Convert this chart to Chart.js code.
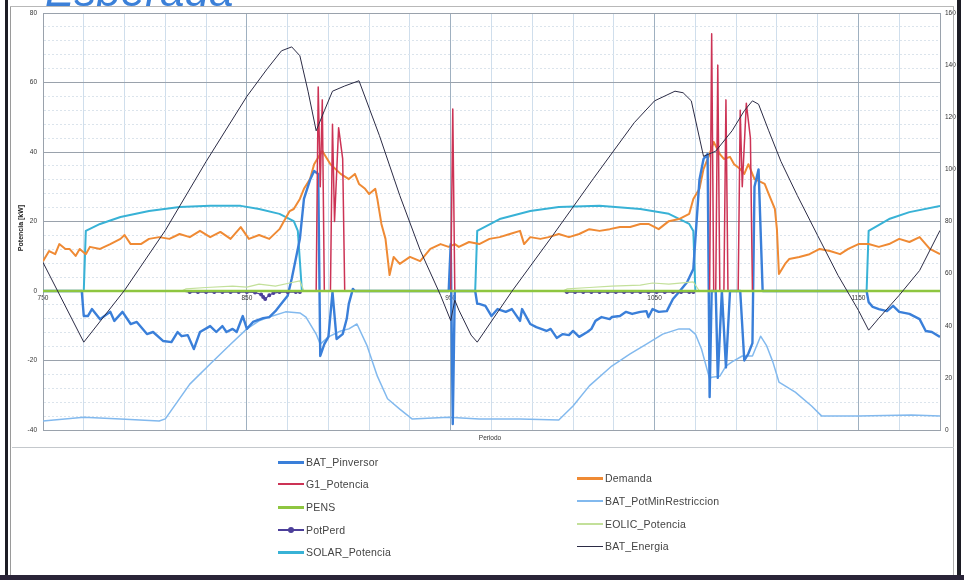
<!DOCTYPE html>
<html>
<head>
<meta charset="utf-8">
<script src="https://cdn.jsdelivr.net/npm/chart.js@4.4.1/dist/chart.umd.min.js"></script>
<style>
  html, body { margin: 0; padding: 0; background: #fff; }
  #wrap { position: relative; width: 964px; height: 580px; overflow: hidden; font-family: "Liberation Sans", Arial, sans-serif; background: #fff; }
  #chart { position: absolute; left: 0; top: 0; }
  .abs { position: absolute; }
  #titlebox { left: 0; top: 0; width: 400px; height: 6px; overflow: hidden; }
  #title { position: absolute; left: 45px; top: -31px; font-size: 44px; font-style: italic; color: #3c80d8; line-height: 44px; white-space: nowrap; }
  #ytitle { left: 20px; top: 228px; font-size: 7px; font-weight: bold; color: #222; transform: translate(-50%, -50%) rotate(-90deg); white-space: nowrap; }
  #xtitle { left: 490px; top: 437px; font-size: 6.5px; color: #333; transform: translate(-50%, -50%); white-space: nowrap; }
  .leg { position: absolute; height: 12px; font-size: 10.5px; color: #444; white-space: nowrap; line-height: 12px; letter-spacing: 0.2px; }
  .leg .sw { position: absolute; left: 0; top: 6px; width: 26px; }
  .leg .dot { position: absolute; left: 10px; width: 6px; height: 6px; border-radius: 50%; }
  .leg .tx { position: absolute; left: 28px; top: 0; }
</style>
</head>
<body>
<div id="wrap">
  <canvas id="chart" width="964" height="580"></canvas>
  <div class="abs" style="left:5px;top:0;width:3px;height:580px;background:#1c1c24"></div>
  <div class="abs" style="left:10px;top:6px;width:1px;height:570px;background:#9a9a9a"></div>
  <div class="abs" style="left:957px;top:0;width:4px;height:580px;background:#1c1c24"></div>
  <div class="abs" style="left:953px;top:6px;width:1px;height:570px;background:#b0b0b0"></div>
  <div class="abs" style="left:10px;top:6px;width:944px;height:1px;background:#b8b8b8"></div>
  <div class="abs" style="left:12px;top:447px;width:942px;height:1px;background:#c4c8cc"></div>
  <div class="abs" style="left:0;top:575px;width:964px;height:5px;background:#2a2438"></div>
  <div id="titlebox" class="abs"><div id="title">Esperada</div></div>
  <div id="ytitle" class="abs">Potencia [kW]</div>
  <div id="xtitle" class="abs">Periodo</div>
  <div id="legend"></div>
</div>
<script>
// Axis tick labels
const xTickLabels = [750, 850, 950, 1050, 1150];
const yLeftLabels = [-40, -20, 0, 20, 40, 60, 80];
const yRightLabels = [0, 20, 40, 60, 80, 100, 120, 140, 160];

// BAT_Pinversor [kW]
const pinvX = [750, 769, 770, 772, 774, 778, 783, 785, 789, 793, 796, 801, 804, 809, 813, 816, 818, 821, 824, 827, 832, 835, 838, 840, 843, 845, 848, 850, 853, 858, 861, 864, 866, 870, 872, 876, 878, 881, 883, 885, 886, 888, 890, 892, 894, 897, 899, 900, 902, 903,
  949, 950, 951, 952, 953, 962, 963, 964, 967, 970, 973, 977, 980, 984, 985, 989, 992, 997, 999, 1002, 1005, 1008, 1010, 1013, 1017, 1019, 1021, 1024, 1028, 1029, 1033, 1036, 1039, 1043, 1046, 1047, 1049, 1052, 1056, 1059, 1062, 1066, 1069, 1072, 1074, 1076,
  1077, 1078, 1080, 1081, 1083, 1085, 1087, 1092, 1094, 1096, 1098, 1099, 1101, 1103, 1154, 1155, 1157, 1160, 1164, 1167, 1170, 1175, 1180, 1183, 1186, 1190];
const pinvY = [0, 0, -7.2, -7.2, -5.2, -8.1, -6.0, -8.6, -6.0, -9.5, -8.9, -12.4, -11.8, -14.4, -14.7, -11.8, -13.0, -12.7, -16.7, -11.8, -10.1, -11.8, -10.1, -11.8, -10.9, -11.8, -7.2, -10.9, -8.9, -7.8, -7.5, -5.8, -4.3, -1.4, 3.5, 15, 26.5, 32, 34.5, 33.7, -18.7, -15.3, -13.2, -0.3, -13.8, -12.4, -8, -3.7, 0.6, 0,
  0, 13.5, -38.3, 0, 0, 0, -3.7, -3.7, -4.3, -7.2, -5.2, -6.0, -5.2, -8.6, -5.2, -9.5, -10.4, -11.5, -10.9, -13.5, -12.4, -12.7, -11.5, -13.2, -11.8, -10.9, -8.6, -7.5, -8.1, -7.5, -7.2, -6.0, -6.6, -6.0, -5.8, -7.5, -5.2, -6.0, -5.8, -2.3, -0.3, 2.6, 6.3, 32, 38, 39.4,
  -30.5, 0, 0, -25, 0, -22, 0, 0, -20, -18, -15, 30, 35, 0, 0, -3.2, -4.6, -5.2, -5.8, -4.3, -6.0, -6.6, -8.1, -11.5, -11.8, -13.2];

// G1_Potencia [kW]
const g1X = [750, 884, 885, 886, 887, 888, 891, 892, 893, 895, 897, 898, 950, 951, 952, 1077, 1078, 1079, 1080, 1081, 1082, 1084, 1085, 1086, 1091, 1092, 1093, 1095, 1097, 1098, 1190];
const g1Y = [0, 0, 58.7, 30, 55, 0, 0, 48, 20, 47, 38, 0, 0, 52.4, 0, 0, 74, 0, 0, 65, 0, 0, 55, 0, 0, 52, 30, 54, 44, 0, 0];

// PENS [kW]
const pensX = [750, 1190];
const pensY = [0, 0];

// PotPerd [kW]
const perdX = [750, 818, 822, 826, 830, 834, 838, 842, 846, 850, 854, 857, 858, 859, 861, 863, 866, 870, 874, 876, 877, 1004, 1007, 1011, 1015, 1019, 1023, 1027, 1031, 1035, 1039, 1043, 1047, 1051, 1055, 1059, 1063, 1067, 1069, 1070, 1190];
const perdY = [0, 0, -0.3, -0.3, -0.3, -0.3, -0.3, -0.3, -0.3, -0.3, -0.4, -1.0, -1.7, -2.3, -1.2, -0.6, -0.3, -0.3, -0.3, -0.3, 0, 0, -0.3, -0.3, -0.3, -0.3, -0.3, -0.3, -0.3, -0.3, -0.3, -0.3, -0.3, -0.3, -0.3, -0.3, -0.3, -0.3, -0.3, 0, 0];

// SOLAR_Potencia [kW]
const solarX = [750, 770, 771, 778, 788, 802, 817, 832, 847, 856, 866, 873, 875, 877, 962, 963, 974, 989, 1003, 1023, 1043, 1057, 1067, 1069, 1070, 1154, 1155, 1165, 1175, 1190];
const solarY = [0, 0, 17.3, 19.3, 21.3, 23, 24.2, 24.5, 24.5, 23.6, 22.2, 20.1, 17.3, 0, 0, 17.3, 20.7, 23, 24.2, 24.5, 23.6, 22.2, 19.3, 17.3, 0, 0, 17.3, 20.7, 22.7, 24.5];

// Demanda [kW]
const demX = [750, 753, 756, 758, 761, 763, 766, 768, 771, 773, 778, 783, 788, 790, 793, 798, 802, 807, 812, 817, 822, 827, 832, 837, 842, 847, 851, 856, 861, 866, 871, 873, 876, 878, 881, 883, 886, 887, 891, 896, 900, 903, 905, 908, 910, 913, 914, 916, 918, 920, 922, 925, 930, 935, 940, 945, 949, 952, 954, 959, 964, 969, 974, 979, 984, 986, 989, 994, 998, 1003, 1008, 1013, 1018, 1023, 1028, 1033, 1038, 1043, 1047, 1052, 1057, 1062, 1067, 1069, 1072, 1074, 1077, 1079, 1082, 1084, 1087, 1089, 1092, 1094, 1096, 1099, 1101, 1104, 1106, 1109, 1110, 1111, 1114, 1116, 1121, 1126, 1131, 1136, 1141, 1145, 1150, 1155, 1160, 1165, 1170, 1175, 1180, 1185, 1190];
const demY = [8.6, 11.5, 10.6, 13.5, 12.1, 12.1, 10.1, 12.1, 10.6, 12.7, 12.1, 13.5, 15, 16.1, 13.5, 13.5, 15, 15.5, 15, 16.4, 15.5, 17.3, 15.5, 17, 15, 18.4, 15, 16.1, 15, 17.8, 23, 23.6, 26.5, 29.4, 32.2, 36.5, 39.4, 40.3, 36.5, 33.7, 32.2, 33.7, 30.8, 29.4, 27.9, 29.4, 26.5, 19.3, 15, 4.6, 9.8, 7.8, 9.8, 8.6, 12.1, 13.5, 12.7, 13.5, 12.7, 14.1, 13.5, 15, 15.5, 16.4, 17.3, 13.5, 15.5, 15, 15.5, 16.4, 15.5, 16.4, 17.8, 17.3, 17.8, 18.4, 18.4, 19.3, 19.3, 17.8, 20.1, 20.7, 22.2, 26.5, 29.4, 35.1, 39.4, 42.9, 39.4, 38, 38.6, 36.5, 35.1, 33.7, 36.5, 32.2, 31.7, 30.8, 27.9, 23.6, 17.8, 4.9, 7.8, 9.2, 9.8, 10.6, 12.1, 11.5, 10.6, 12.1, 13.5, 13.5, 12.7, 13.5, 15, 14.1, 15.5, 12.1, 10.6];

// BAT_PotMinRestriccion [kW]
const pminX = [750, 770, 788, 807, 810, 822, 832, 842, 850, 856, 861, 869, 876, 879, 884, 886, 890, 896, 900, 904, 909, 914, 919, 925, 931, 949, 964, 984, 1003, 1010, 1018, 1029, 1038, 1046, 1054, 1062, 1067, 1070, 1073, 1077, 1078, 1082, 1085, 1088, 1093, 1098, 1102, 1105, 1108, 1111, 1119, 1127, 1132, 1150, 1176, 1190];
const pminY = [-37.4, -36.3, -36.8, -37.4, -36.8, -26.8, -21, -15.3, -10.9, -8.6, -7.5, -6.0, -6.3, -7.5, -12.4, -15.3, -13.2, -11.5, -10.9, -9.5, -15.8, -24.5, -31, -34, -36.8, -36.3, -36.8, -36.8, -37.1, -33.1, -27.3, -21.6, -18.1, -15.3, -12.4, -10.9, -10.9, -12.4, -16.7, -25.3, -24.8, -24.5, -21.6, -20.4, -18.7, -18.7, -13, -15.8, -20.4, -26.2, -29.1, -33.1, -36, -36, -35.7, -36];

// EOLIC_Potencia [kW]
const eolX = [750, 818, 820, 830, 843, 850, 856, 864, 871, 876, 878, 1005, 1007, 1018, 1029, 1043, 1049, 1057, 1069, 1072, 1190];
const eolY = [0, 0, 0.6, 1.0, 1.4, 1.1, 2.0, 1.4, 2.3, 2.9, 0, 0, 0.6, 1.0, 1.4, 1.7, 2.3, 2.0, 2.6, 0, 0];

// BAT_Energia [kWh]
const eneX = [750, 770, 790, 810, 830, 850, 860, 867, 872, 876, 880, 884, 888, 892, 898, 905, 915, 925, 935, 945, 950, 952, 954, 960, 963, 980, 1000, 1020, 1040, 1050, 1060, 1064, 1068, 1074, 1080, 1088, 1094, 1098, 1101, 1106, 1112, 1120, 1130, 1140, 1150, 1155, 1160, 1170, 1180, 1190];
const eneY = [64.3, 33.7, 53.6, 76.6, 103, 128, 138.6, 145.5, 147, 143.6, 130, 114.8, 122.5, 130, 132, 134, 113, 90, 69, 51.7, 42, 49.8, 46, 36.4, 33.7, 53.2, 74.6, 96.5, 117.9, 126.3, 130, 129.4, 126.3, 105, 107, 114.8, 122.5, 126.3, 125, 114.8, 103, 90, 74.6, 59.3, 45.9, 38.3, 42.9, 51.7, 61.2, 76.6];

const pts = (xs, ys) => xs.map((x, i) => ({ x: x, y: ys[i] }));

const series = [
  { label: 'BAT_Pinversor', xs: pinvX, ys: pinvY, color: '#3a7fd9', width: 2.4, axis: 'y', order: 6, leg: [0, 0] },
  { label: 'G1_Potencia', xs: g1X, ys: g1Y, color: '#cc3355', width: 1.5, axis: 'y', order: 5, leg: [0, 1] },
  { label: 'PENS', xs: pensX, ys: pensY, color: '#8ec640', width: 2.4, axis: 'y', order: 2, leg: [0, 2] },
  { label: 'PotPerd', xs: perdX, ys: perdY, color: '#4c3f9a', width: 1.2, axis: 'y', order: 3, leg: [0, 3], marker: true },
  { label: 'SOLAR_Potencia', xs: solarX, ys: solarY, color: '#38b2d6', width: 2, axis: 'y', order: 8, leg: [0, 4] },
  { label: 'Demanda', xs: demX, ys: demY, color: '#ef8a34', width: 2, axis: 'y', order: 7, leg: [1, 0] },
  { label: 'BAT_PotMinRestriccion', xs: pminX, ys: pminY, color: '#82b9ee', width: 1.5, axis: 'y', order: 9, leg: [1, 1] },
  { label: 'EOLIC_Potencia', xs: eolX, ys: eolY, color: '#c3e09a', width: 1.2, axis: 'y', order: 4, leg: [1, 2] },
  { label: 'BAT_Energia', xs: eneX, ys: eneY, color: '#2b2b45', width: 1, axis: 'y2', order: 1, leg: [1, 3] }
];

const datasets = series.map(s => ({
  label: s.label,
  data: pts(s.xs, s.ys),
  borderColor: s.color,
  backgroundColor: s.color,
  borderWidth: s.width,
  yAxisID: s.axis,
  order: s.order,
  tension: 0,
  fill: false,
  pointRadius: s.marker ? (ctx => (ctx.raw && ctx.raw.y !== 0 ? 1.4 : 0)) : 0,
  pointHoverRadius: 0,
  borderJoinStyle: 'round'
}));

const xGridTicks = [];
for (let v = 750; v <= 1190; v += 20) xGridTicks.push(v);

new Chart(document.getElementById('chart'), {
  type: 'line',
  data: { datasets: datasets },
  options: {
    responsive: false,
    animation: false,
    events: [],
    layout: { padding: { top: 13, bottom: 150, left: 0, right: 0 } },
    plugins: { legend: { display: false }, tooltip: { enabled: false } },
    scales: {
      x: {
        type: 'linear',
        position: { y: 0 },
        min: 750, max: 1190,
        afterBuildTicks: s => { s.ticks = xGridTicks.map(v => ({ value: v })); },
        ticks: {
          autoSkip: false, maxRotation: 0, padding: 3,
          font: { size: 6.5, family: 'Liberation Sans' }, color: '#333',
          callback: v => (xTickLabels.includes(v) ? String(v) : '')
        },
        grid: {
          drawTicks: false,
          color: ctx => (ctx.tick && xTickLabels.includes(ctx.tick.value) ? '#9fb0c0' : '#cfdeec'),
          lineWidth: 1
        },
        border: { display: false }
      },
      y: {
        position: 'left',
        min: -40, max: 80,
        afterFit: s => { s.width = 43; },
        ticks: {
          stepSize: 4, padding: 6, autoSkip: false,
          font: { size: 6.5, family: 'Liberation Sans' }, color: '#333',
          callback: v => (yLeftLabels.includes(v) ? String(v) : '')
        },
        grid: {
          drawTicks: false,
          color: ctx => (ctx.tick && yLeftLabels.includes(ctx.tick.value) ? '#9aa2ac' : '#dbe4ec'),
          lineWidth: 1
        },
        border: { display: true, color: '#9aa2ac', dash: ctx => (ctx.tick && yLeftLabels.includes(ctx.tick.value) ? [] : [2, 2]) }
      },
      y2: {
        position: 'right',
        min: 0, max: 160,
        afterFit: s => { s.width = 24; },
        ticks: {
          stepSize: 20, padding: 5, autoSkip: false,
          font: { size: 6.5, family: 'Liberation Sans' }, color: '#333',
          callback: v => (yRightLabels.includes(v) ? String(v) : '')
        },
        grid: { drawOnChartArea: false, drawTicks: false },
        border: { display: true, color: '#9aa2ac' }
      }
    }
  }
});

// Legend in two columns below the plot
const legend = document.getElementById('legend');
const colX = [278, 577];
const colY = [[456, 478, 501, 524, 546], [472, 495, 518, 540]];
series.forEach(s => {
  const d = document.createElement('div');
  d.className = 'leg';
  d.style.left = colX[s.leg[0]] + 'px';
  d.style.top = colY[s.leg[0]][s.leg[1]] + 'px';
  const h = Math.max(1, Math.round(s.width * 1.3));
  let html = '<div class="sw" style="height:' + h + 'px;margin-top:' + (-Math.floor(h / 2)) + 'px;background:' + s.color + '"></div>';
  if (s.marker) html += '<div class="dot" style="top:3px;background:' + s.color + '"></div>';
  html += '<div class="tx">' + s.label + '</div>';
  d.innerHTML = html;
  legend.appendChild(d);
});
</script>
</body>
</html>
